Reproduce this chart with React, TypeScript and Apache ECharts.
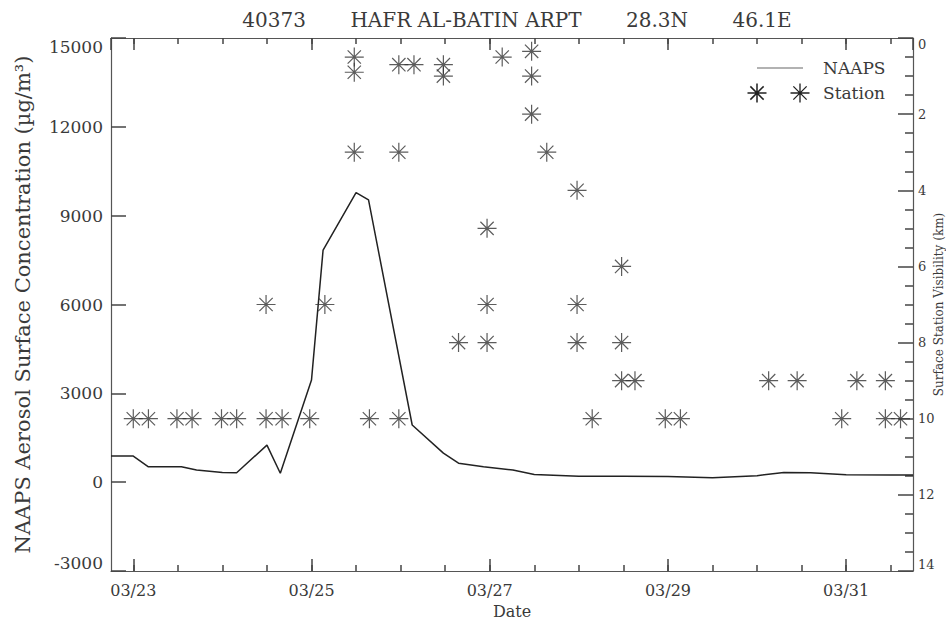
import React, { useEffect, useRef } from "react";
import * as echarts from "echarts";

// Time axis: days relative to 03/23 00Z
const dateLabels = ["03/23", "03/25", "03/27", "03/29", "03/31"];
const labelDays = [0, 2, 4, 6, 8];
const halfDayTicks = [0, 0.5, 1, 1.5, 2, 2.5, 3, 3.5, 4, 4.5, 5, 5.5, 6, 6.5, 7, 7.5, 8, 8.5];

// NAAPS modeled surface concentration (µg/m³)
const naapsDays = [-0.25, 0, 0.17, 0.54, 0.71, 1.0, 1.16, 1.5, 1.65, 2.0, 2.13, 2.5, 2.64, 3.13, 3.48, 3.65, 3.93, 4.26, 4.5, 5.0, 5.5, 6.0, 6.5, 7.0, 7.3, 7.6, 8.0, 8.5, 8.75];
const naapsConc = [880, 880, 520, 520, 410, 330, 320, 1250, 300, 3450, 7840, 9780, 9530, 1930, 980, 640, 520, 410, 260, 200, 200, 190, 150, 220, 330, 320, 250, 240, 240];

// Station visibility observations (km)
const stationDays = [
  0, 0.17, 0.49, 0.66, 0.99, 1.16, 1.49, 1.67, 1.98, 2.65, 2.98, 5.15, 5.97, 6.14, 7.95, 8.44, 8.61,
  5.48, 5.63, 7.13, 7.45, 8.12, 8.44,
  3.65, 3.97, 4.98, 5.48,
  1.49, 2.15, 3.97, 4.98,
  5.48,
  3.97,
  4.98,
  2.48, 2.98, 4.64,
  4.47,
  2.48, 3.48, 4.47,
  2.98, 3.15, 3.48,
  2.48, 4.14,
  4.47,
];
const stationVis = [
  10, 10, 10, 10, 10, 10, 10, 10, 10, 10, 10, 10, 10, 10, 10, 10, 10,
  9, 9, 9, 9, 9, 9,
  8, 8, 8, 8,
  7, 7, 7, 7,
  6,
  5,
  4,
  3, 3, 3,
  2,
  0.9, 1, 1,
  0.7, 0.7, 0.7,
  0.5, 0.5,
  0.35,
];

const GAP = "\u00a0\u00a0\u00a0\u00a0\u00a0\u00a0\u00a0";
const titleText = "40373" + GAP + "HAFR AL-BATIN ARPT" + GAP + "28.3N" + GAP + "46.1E";
const FONT = "DejaVu Serif";
const STAR_PATH = "M10,0L10,20M0,10L20,10M3,3L17,17M3,17L17,3";
const STAR_SHAPE = "M0,-10L0,10M-10,0L10,0M-7,-7L7,7M-7,7L7,-7";

echarts.graphic.registerShape("asteriskMark", echarts.graphic.extendPath(STAR_SHAPE, {}));

export default function App() {
  const ref = useRef<HTMLDivElement>(null);
  useEffect(() => {
    if (!ref.current) return;
    const chart = echarts.init(ref.current, undefined, { renderer: "svg" });
    const axisColor = "#555";
    const textColor = "#3a3a3a";
    const xMin = -0.25;
    const xMax = 8.75;
    const baseX = {
      type: "value",
      min: xMin,
      max: xMax,
      splitLine: { show: false },
    };
    chart.setOption({
      animation: false,
      backgroundColor: "#fff",
      textStyle: { fontFamily: FONT, color: textColor },
      title: {
        text: titleText,
        left: 512,
        top: 5,
        textAlign: "center",
        textStyle: { fontFamily: FONT, fontSize: 20, fontWeight: "normal", color: textColor },
      },
      grid: { left: 111, right: 33, top: 38, bottom: 52, containLabel: false, outerBoundsMode: "none" },
      xAxis: [
        {
          ...baseX,
          position: "bottom",
          axisLine: { show: true, onZero: false, lineStyle: { color: axisColor, width: 1.2 } },
          axisTick: { show: true, inside: true, length: 6, customValues: halfDayTicks, lineStyle: { color: "#444", width: 1.5 } },
          axisLabel: { show: false },
        },
        {
          ...baseX,
          position: "bottom",
          axisLine: { show: false, onZero: false },
          axisTick: { show: true, inside: true, length: 12, customValues: labelDays, lineStyle: { color: "#444", width: 1.5 } },
          axisLabel: {
            show: true,
            customValues: labelDays,
            margin: 11,
            fontSize: 16,
            fontFamily: FONT,
            color: textColor,
            formatter: (v: number) => {
              const i = labelDays.indexOf(Math.round(v * 1000) / 1000);
              return i >= 0 ? dateLabels[i] : "";
            },
          },
          name: "Date",
          nameLocation: "middle",
          nameGap: 32,
          nameMoveOverlap: false,
          nameTextStyle: { fontFamily: FONT, fontSize: 16, color: textColor },
        },
        {
          ...baseX,
          position: "top",
          axisLine: { show: true, onZero: false, lineStyle: { color: axisColor, width: 1.2 } },
          axisTick: { show: true, inside: true, length: 6, customValues: halfDayTicks, lineStyle: { color: "#444", width: 1.5 } },
          axisLabel: { show: false },
        },
        {
          ...baseX,
          position: "top",
          axisLine: { show: false, onZero: false },
          axisTick: { show: true, inside: true, length: 12, interval: 0, lineStyle: { color: "#444", width: 1.5 } },
          axisLabel: { show: false },
        },
      ],
      yAxis: [
        {
          type: "value",
          position: "left",
          min: -3000,
          max: 15000,
          interval: 3000,
          splitLine: { show: false },
          axisLine: { show: true, onZero: false, lineStyle: { color: axisColor, width: 1.2 } },
          axisTick: { show: true, inside: true, length: 15, lineStyle: { color: "#444", width: 1.5 } },
          axisLabel: {
            fontSize: 17,
            margin: 8,
            fontFamily: FONT,
            color: textColor,
            formatter: (v: number) => String(v),
            verticalAlignMinLabel: "bottom",
            verticalAlignMaxLabel: "top",
          },
          name: "NAAPS Aerosol Surface Concentration (µg/m³)",
          nameLocation: "middle",
          nameGap: 78,
          nameRotate: 90,
          nameMoveOverlap: false,
          nameTextStyle: { fontFamily: FONT, fontSize: 21, color: textColor },
        },
        {
          type: "value",
          position: "right",
          min: 0,
          max: 14,
          interval: 2,
          inverse: true,
          splitLine: { show: false },
          axisLine: { show: true, onZero: false, lineStyle: { color: axisColor, width: 1.2 } },
          axisTick: { show: true, inside: true, length: 15, lineStyle: { color: "#444", width: 1.5 } },
          minorTick: { show: true, splitNumber: 4, length: 8, lineStyle: { color: "#444", width: 1.5 } },
          axisLabel: {
            fontSize: 13,
            margin: 5,
            fontFamily: FONT,
            color: textColor,
            verticalAlignMinLabel: "top",
            verticalAlignMaxLabel: "bottom",
          },
          name: "Surface Station Visibility (km)",
          nameLocation: "middle",
          nameGap: 20,
          nameRotate: 90,
          nameMoveOverlap: false,
          nameTextStyle: { fontFamily: FONT, fontSize: 12, color: textColor },
        },
      ],
      series: [
        {
          name: "NAAPS",
          type: "line",
          xAxisIndex: 0,
          yAxisIndex: 0,
          data: naapsDays.map((d, i) => [d, naapsConc[i]]),
          symbol: "none",
          lineStyle: { color: "#222", width: 1.5 },
          z: 3,
        },
        {
          name: "Station",
          type: "scatter",
          xAxisIndex: 0,
          yAxisIndex: 1,
          data: stationDays.map((d, i) => [d, stationVis[i]]),
          symbol: "path://" + STAR_PATH,
          symbolSize: 19,
          itemStyle: { color: "rgba(0,0,0,0)", borderColor: "#333", borderWidth: 1.2 },
          z: 4,
        },
      ],
      graphic: [
        {
          type: "line",
          shape: { x1: 757, y1: 68, x2: 803, y2: 68 },
          style: { stroke: "#666", lineWidth: 1.2 },
        },
        {
          type: "text",
          x: 823,
          y: 68,
          style: { text: "NAAPS", fontFamily: FONT, fontSize: 17, fill: textColor, verticalAlign: "middle" },
        },
        {
          type: "asteriskMark",
          x: 757,
          y: 93,
          scaleX: 0.95,
          scaleY: 0.95,
          style: { stroke: "#222", fill: "none", lineWidth: 1.6 },
        },
        {
          type: "asteriskMark",
          x: 800,
          y: 93,
          scaleX: 0.95,
          scaleY: 0.95,
          style: { stroke: "#222", fill: "none", lineWidth: 1.4 },
        },
        {
          type: "text",
          x: 823,
          y: 93,
          style: { text: "Station", fontFamily: FONT, fontSize: 17, fill: textColor, verticalAlign: "middle" },
        },
      ],
    });
    return () => chart.dispose();
  }, []);
  return (
    <div
      ref={ref}
      style={{ position: "fixed", left: 0, top: 0, width: 946, height: 623, background: "#fff" }}
    />
  );
}
